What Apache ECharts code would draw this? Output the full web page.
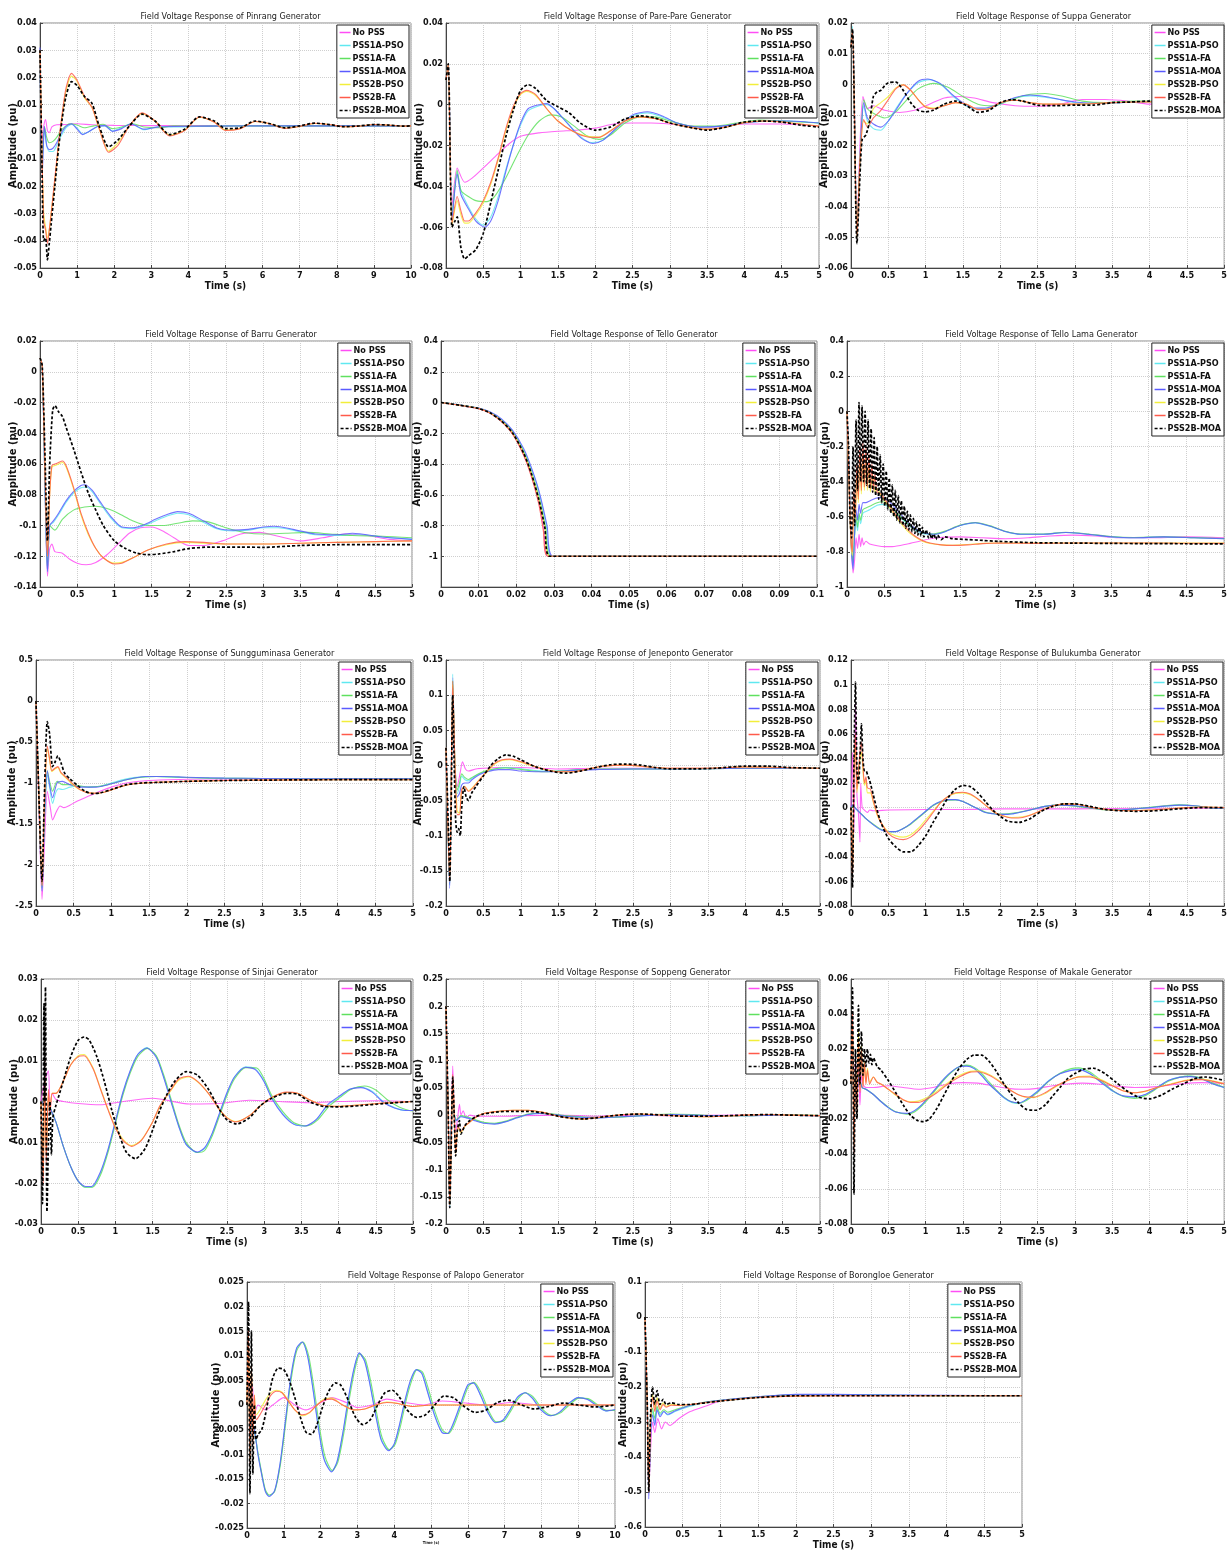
<!DOCTYPE html>
<html>
<head>
<meta charset="utf-8">
<script src="https://cdn.jsdelivr.net/npm/echarts@6/dist/echarts.min.js"></script>
<style>
html, body { margin: 0; padding: 0; background: #fff; }
#main { width: 1230px; height: 1551px; }
</style>
</head>
<body>
<div id="main"></div>
<script>
// legend names, same order for every panel
var seriesNames = ['No PSS', 'PSS1A-PSO', 'PSS1A-FA', 'PSS1A-MOA', 'PSS2B-PSO', 'PSS2B-FA', 'PSS2B-MOA'];

var panelTitles = [
	'Field Voltage Response of Pinrang Generator',
	'Field Voltage Response of Pare-Pare Generator',
	'Field Voltage Response of Suppa Generator',
	'Field Voltage Response of Barru Generator',
	'Field Voltage Response of Tello Generator',
	'Field Voltage Response of Tello Lama Generator',
	'Field Voltage Response of Sungguminasa Generator',
	'Field Voltage Response of Jeneponto Generator',
	'Field Voltage Response of Bulukumba Generator',
	'Field Voltage Response of Sinjai Generator',
	'Field Voltage Response of Soppeng Generator',
	'Field Voltage Response of Makale Generator',
	'Field Voltage Response of Palopo Generator',
	'Field Voltage Response of Borongloe Generator'
];

// axis ticks: [min, max, interval]
var timeTicks = [[0,10,1],[0,5,0.5],[0,5,0.5],[0,5,0.5],[0,0.1,0.01],[0,5,0.5],[0,5,0.5],[0,5,0.5],[0,5,0.5],[0,5,0.5],[0,5,0.5],[0,5,0.5],[0,10,1],[0,5,0.5]];
var ampTicks = [[-0.05,0.04,0.01],[-0.08,0.04,0.02],[-0.06,0.02,0.01],[-0.14,0.02,0.02],[-1.2,0.4,0.2],[-1,0.4,0.2],[-2.5,0.5,0.5],[-0.2,0.15,0.05],[-0.08,0.12,0.02],[-0.03,0.03,0.01],[-0.2,0.25,0.05],[-0.08,0.06,0.02],[-0.025,0.025,0.005],[-0.6,0.1,0.1]];

// curves: [time (s), amplitude (pu)], one list per legend entry
var pinrang = [
	[[0,0.03],[0.05,-0.004],[0.1,0.002],[0.15,0.0045],[0.2,0.0005],[0.25,-0.0003],[0.32,0.0018],[0.45,0.0026],[0.7,0.0027],[1,0.003],[1.4,0.0026],[2,0.0024],[3,0.0023],[5,0.0023],[7,0.0022],[10,0.0022]],
	[[0,0.03],[0.06,-0.012],[0.12,0.001],[0.18,-0.005],[0.25,-0.0072],[0.35,-0.0072],[0.45,-0.005],[0.55,-0.002],[0.7,0.0015],[0.85,0.0027],[1,0.0015],[1.15,-0.0008],[1.3,0],[1.55,0.002],[1.75,0.0022],[1.95,0.0003],[2.2,0.0015],[2.45,0.003],[2.8,0.0008],[3.2,0.002],[3.6,0.0018],[4.2,0.002],[5,0.0022],[7,0.0022],[10,0.0022]],
	[[0,0.03],[0.06,-0.01],[0.12,0.002],[0.18,-0.002],[0.25,-0.004],[0.35,-0.0035],[0.45,-0.002],[0.6,0.001],[0.8,0.003],[1,0.0025],[1.2,0.0015],[1.45,0.0022],[1.7,0.0028],[1.95,0.0012],[2.2,0.0018],[2.5,0.003],[2.8,0.0018],[3.2,0.0015],[3.6,0.0022],[4.5,0.0021],[6,0.0022],[10,0.0022]],
	[[0,0.031],[0.06,-0.016],[0.12,0.002],[0.18,-0.005],[0.25,-0.0065],[0.35,-0.006],[0.45,-0.004],[0.55,-0.001],[0.7,0.002],[0.85,0.003],[1,0.001],[1.15,-0.001],[1.3,0],[1.55,0.002],[1.75,0.0023],[1.95,0.0002],[2.2,0.0012],[2.45,0.003],[2.8,0.001],[3.2,0.0018],[3.6,0.002],[4.5,0.0021],[6,0.0022],[10,0.0022]],
	[[0,0.03],[0.05,-0.006],[0.1,-0.03],[0.15,-0.035],[0.2,-0.039],[0.25,-0.036],[0.3,-0.03],[0.4,-0.018],[0.5,-0.005],[0.6,0.006],[0.7,0.015],[0.85,0.0205],[1,0.0185],[1.2,0.0125],[1.4,0.009],[1.6,0.001],[1.85,-0.007],[2.1,-0.004],[2.4,0.002],[2.75,0.0068],[3.1,0.004],[3.5,-0.0012],[3.9,0.0006],[4.3,0.0054],[4.7,0.0036],[5,0.0007],[5.4,0.0013],[5.8,0.0038],[6.2,0.003],[6.6,0.0014],[7,0.002],[7.4,0.0031],[7.8,0.0027],[8.2,0.0019],[8.6,0.0021],[9,0.0027],[9.4,0.0025],[9.8,0.0021],[10,0.0022]],
	[[0,0.03],[0.05,-0.005],[0.1,-0.033],[0.15,-0.036],[0.2,-0.041],[0.25,-0.036],[0.3,-0.03],[0.4,-0.017],[0.5,-0.004],[0.6,0.007],[0.7,0.016],[0.85,0.0215],[1,0.019],[1.2,0.013],[1.4,0.009],[1.6,0.001],[1.85,-0.0075],[2.1,-0.005],[2.4,0.002],[2.75,0.007],[3.1,0.004],[3.5,-0.0015],[3.9,0.0005],[4.3,0.0055],[4.7,0.0035],[5,0.0005],[5.4,0.0012],[5.8,0.0038],[6.2,0.003],[6.6,0.0013],[7,0.002],[7.4,0.0032],[7.8,0.0027],[8.2,0.0019],[8.6,0.0021],[9,0.0027],[9.4,0.0025],[9.8,0.0021],[10,0.0022]],
	[[0,0.03],[0.05,-0.01],[0.1,-0.04],[0.15,-0.039],[0.2,-0.047],[0.25,-0.041],[0.3,-0.034],[0.4,-0.02],[0.5,-0.006],[0.6,0.005],[0.7,0.013],[0.85,0.0185],[1,0.017],[1.2,0.013],[1.4,0.0105],[1.6,0.002],[1.85,-0.0055],[2.1,-0.003],[2.4,0.002],[2.75,0.0065],[3.1,0.004],[3.5,-0.001],[3.9,0.001],[4.3,0.0055],[4.7,0.004],[5,0.0012],[5.4,0.0015],[5.8,0.004],[6.2,0.003],[6.6,0.0015],[7,0.0022],[7.4,0.0032],[7.8,0.0027],[8.2,0.0019],[8.6,0.0022],[9,0.0027],[9.4,0.0025],[9.8,0.0021],[10,0.0022]]
];

var parePare = [
	[[0,0.012],[0.03,0.02],[0.08,-0.05],[0.15,-0.031],[0.25,-0.038],[0.35,-0.036],[0.5,-0.031],[0.7,-0.024],[0.85,-0.019],[1,-0.0155],[1.25,-0.0138],[1.5,-0.013],[1.75,-0.0125],[2,-0.0115],[2.25,-0.0095],[2.5,-0.009],[2.75,-0.009],[3,-0.0095],[3.5,-0.011],[4,-0.0095],[4.5,-0.0095],[5,-0.0105]],
	[[0,0.012],[0.03,0.02],[0.08,-0.055],[0.15,-0.033],[0.2,-0.042],[0.3,-0.05],[0.4,-0.056],[0.5,-0.059],[0.6,-0.055],[0.7,-0.045],[0.8,-0.032],[0.9,-0.02],[1,-0.01],[1.1,-0.003],[1.25,-0.0005],[1.35,0],[1.45,-0.002],[1.6,-0.008],[1.8,-0.0155],[1.95,-0.0185],[2.1,-0.0175],[2.3,-0.011],[2.5,-0.0055],[2.7,-0.004],[2.9,-0.006],[3.1,-0.009],[3.4,-0.011],[3.7,-0.0105],[4,-0.009],[4.3,-0.008],[4.6,-0.008],[5,-0.009]],
	[[0,0.012],[0.03,0.02],[0.08,-0.055],[0.15,-0.032],[0.2,-0.042],[0.3,-0.045],[0.4,-0.047],[0.55,-0.0475],[0.65,-0.045],[0.8,-0.036],[0.95,-0.025],[1.1,-0.015],[1.25,-0.008],[1.4,-0.005],[1.55,-0.006],[1.7,-0.01],[1.9,-0.0155],[2.05,-0.017],[2.2,-0.015],[2.4,-0.009],[2.6,-0.006],[2.8,-0.006],[3,-0.008],[3.3,-0.0105],[3.6,-0.0105],[3.9,-0.009],[4.2,-0.0075],[4.5,-0.008],[5,-0.009]],
	[[0,0.012],[0.03,0.02],[0.08,-0.056],[0.15,-0.034],[0.2,-0.044],[0.3,-0.051],[0.4,-0.057],[0.52,-0.06],[0.6,-0.057],[0.7,-0.047],[0.8,-0.033],[0.9,-0.02],[1,-0.009],[1.1,-0.002],[1.25,0],[1.35,0.0005],[1.45,-0.002],[1.6,-0.008],[1.8,-0.016],[1.97,-0.019],[2.1,-0.0175],[2.3,-0.011],[2.5,-0.005],[2.7,-0.0035],[2.9,-0.0055],[3.1,-0.009],[3.4,-0.011],[3.7,-0.0105],[4,-0.009],[4.3,-0.008],[4.6,-0.008],[5,-0.009]],
	[[0,0.012],[0.03,0.02],[0.08,-0.059],[0.15,-0.047],[0.2,-0.054],[0.25,-0.058],[0.3,-0.058],[0.4,-0.054],[0.5,-0.048],[0.6,-0.039],[0.7,-0.027],[0.8,-0.013],[0.9,-0.002],[1,0.005],[1.08,0.0065],[1.2,0.0045],[1.35,-0.002],[1.5,-0.008],[1.7,-0.013],[1.9,-0.0155],[2.05,-0.0158],[2.2,-0.0128],[2.4,-0.008],[2.6,-0.006],[2.8,-0.0068],[3,-0.009],[3.25,-0.011],[3.5,-0.012],[3.75,-0.011],[4,-0.0088],[4.25,-0.008],[4.5,-0.0085],[4.75,-0.0095],[5,-0.0105]],
	[[0,0.012],[0.03,0.02],[0.08,-0.058],[0.15,-0.045],[0.2,-0.052],[0.25,-0.057],[0.3,-0.057],[0.4,-0.053],[0.5,-0.047],[0.6,-0.038],[0.7,-0.026],[0.8,-0.012],[0.9,-0.001],[1,0.0055],[1.08,0.007],[1.2,0.005],[1.35,-0.002],[1.5,-0.008],[1.7,-0.013],[1.9,-0.0158],[2.05,-0.016],[2.2,-0.013],[2.4,-0.008],[2.6,-0.006],[2.8,-0.0068],[3,-0.009],[3.25,-0.011],[3.5,-0.012],[3.75,-0.011],[4,-0.0088],[4.25,-0.008],[4.5,-0.0085],[4.75,-0.0095],[5,-0.0105]],
	[[0,0.012],[0.03,0.02],[0.08,-0.06],[0.12,-0.057],[0.15,-0.055],[0.2,-0.07],[0.25,-0.0755],[0.3,-0.074],[0.4,-0.071],[0.5,-0.063],[0.6,-0.048],[0.7,-0.032],[0.8,-0.016],[0.9,-0.003],[1,0.007],[1.1,0.0098],[1.2,0.008],[1.35,0.002],[1.5,-0.001],[1.65,-0.004],[1.8,-0.009],[2,-0.0125],[2.2,-0.011],[2.4,-0.007],[2.6,-0.0055],[2.8,-0.0065],[3,-0.009],[3.25,-0.011],[3.5,-0.0125],[3.75,-0.011],[4,-0.0085],[4.25,-0.008],[4.5,-0.0085],[4.75,-0.01],[5,-0.011]]
];

var suppa = [
	[[0,0.012],[0.02,0.018],[0.08,-0.048],[0.12,-0.02],[0.16,-0.004],[0.22,-0.008],[0.3,-0.007],[0.45,-0.0085],[0.65,-0.0092],[0.85,-0.0085],[1.05,-0.0065],[1.25,-0.0045],[1.45,-0.004],[1.65,-0.0045],[1.9,-0.006],[2.2,-0.007],[2.5,-0.0072],[2.8,-0.0065],[3.1,-0.005],[3.4,-0.005],[3.7,-0.0055],[4,-0.0065],[4.5,-0.0062],[5,-0.006]],
	[[0,0.012],[0.02,0.019],[0.08,-0.05],[0.12,-0.025],[0.17,-0.007],[0.22,-0.012],[0.3,-0.0145],[0.4,-0.015],[0.5,-0.012],[0.6,-0.008],[0.75,-0.003],[0.9,0.0005],[1.05,0.0015],[1.2,0],[1.35,-0.0035],[1.5,-0.0065],[1.65,-0.008],[1.8,-0.008],[2,-0.0065],[2.2,-0.0045],[2.4,-0.0038],[2.6,-0.0042],[2.8,-0.005],[3,-0.006],[3.3,-0.0063],[3.6,-0.006],[4,-0.0057],[4.5,-0.0057],[5,-0.006]],
	[[0,0.012],[0.02,0.018],[0.08,-0.05],[0.12,-0.025],[0.17,-0.005],[0.22,-0.008],[0.3,-0.0095],[0.45,-0.011],[0.6,-0.009],[0.75,-0.005],[0.9,-0.0015],[1.1,0.0003],[1.3,-0.001],[1.5,-0.004],[1.7,-0.0065],[1.9,-0.007],[2.1,-0.0055],[2.35,-0.0035],[2.6,-0.003],[2.85,-0.004],[3.1,-0.0055],[3.4,-0.006],[3.8,-0.0055],[4.2,-0.0055],[4.6,-0.0056],[5,-0.0058]],
	[[0,0.012],[0.02,0.018],[0.08,-0.05],[0.12,-0.025],[0.17,-0.006],[0.22,-0.011],[0.3,-0.013],[0.4,-0.014],[0.5,-0.012],[0.6,-0.0085],[0.75,-0.003],[0.9,0.001],[1.03,0.0017],[1.2,0.0002],[1.35,-0.0032],[1.5,-0.006],[1.65,-0.0078],[1.8,-0.0078],[2,-0.0062],[2.2,-0.0043],[2.4,-0.0035],[2.6,-0.004],[2.8,-0.005],[3,-0.0058],[3.3,-0.0062],[3.6,-0.006],[4,-0.0057],[4.5,-0.0057],[5,-0.006]],
	[[0,0.012],[0.02,0.018],[0.08,-0.05],[0.12,-0.025],[0.17,-0.012],[0.22,-0.013],[0.3,-0.008],[0.4,-0.006],[0.5,-0.004],[0.6,-0.0012],[0.7,-0.0002],[0.8,-0.002],[0.9,-0.005],[1,-0.0072],[1.1,-0.0078],[1.25,-0.007],[1.4,-0.006],[1.55,-0.0065],[1.7,-0.0082],[1.85,-0.008],[2,-0.006],[2.2,-0.0052],[2.4,-0.006],[2.6,-0.0065],[2.8,-0.0065],[3,-0.0065],[3.5,-0.006],[4,-0.0057],[5,-0.006]],
	[[0,0.012],[0.02,0.018],[0.08,-0.05],[0.12,-0.025],[0.17,-0.0115],[0.22,-0.014],[0.3,-0.011],[0.4,-0.0085],[0.5,-0.005],[0.6,-0.0015],[0.7,-0.0002],[0.8,-0.002],[0.9,-0.005],[1,-0.0075],[1.1,-0.008],[1.25,-0.007],[1.4,-0.006],[1.55,-0.0065],[1.7,-0.0083],[1.85,-0.008],[2,-0.006],[2.2,-0.0052],[2.4,-0.006],[2.6,-0.0065],[2.8,-0.0065],[3,-0.0065],[3.5,-0.006],[4,-0.0057],[5,-0.006]],
	[[0,0.012],[0.02,0.018],[0.08,-0.052],[0.12,-0.03],[0.15,-0.018],[0.2,-0.0165],[0.25,-0.012],[0.3,-0.004],[0.35,-0.0025],[0.4,-0.002],[0.45,-0.0005],[0.5,0.0005],[0.6,0.0007],[0.7,-0.002],[0.8,-0.006],[0.9,-0.0085],[1,-0.009],[1.1,-0.0085],[1.25,-0.0065],[1.4,-0.0055],[1.55,-0.007],[1.7,-0.0092],[1.85,-0.0085],[2,-0.006],[2.15,-0.005],[2.3,-0.0055],[2.5,-0.0068],[2.75,-0.007],[3,-0.0068],[3.25,-0.0068],[3.5,-0.006],[3.75,-0.0058],[4,-0.0055],[4.5,-0.0057],[5,-0.0058]]
];

var barru = [
	[[0,0.009],[0.03,0.004],[0.07,-0.08],[0.1,-0.133],[0.13,-0.115],[0.16,-0.112],[0.2,-0.117],[0.3,-0.118],[0.4,-0.122],[0.5,-0.1245],[0.62,-0.1255],[0.75,-0.124],[0.9,-0.119],[1.05,-0.112],[1.2,-0.105],[1.35,-0.1015],[1.5,-0.101],[1.65,-0.1035],[1.8,-0.108],[2,-0.113],[2.2,-0.113],[2.45,-0.11],[2.7,-0.1055],[2.95,-0.1045],[3.2,-0.107],[3.5,-0.11],[3.8,-0.108],[4.1,-0.1055],[4.4,-0.1065],[4.7,-0.109],[5,-0.11]],
	[[0,0.009],[0.03,0.004],[0.07,-0.08],[0.1,-0.13],[0.13,-0.1],[0.18,-0.098],[0.25,-0.093],[0.35,-0.085],[0.45,-0.079],[0.55,-0.0755],[0.62,-0.075],[0.7,-0.078],[0.8,-0.085],[0.95,-0.095],[1.1,-0.1015],[1.25,-0.102],[1.4,-0.1],[1.55,-0.097],[1.7,-0.094],[1.85,-0.092],[2,-0.093],[2.2,-0.098],[2.4,-0.1025],[2.6,-0.1035],[2.8,-0.103],[3,-0.1015],[3.2,-0.1015],[3.4,-0.103],[3.7,-0.106],[4,-0.1065],[4.3,-0.106],[4.6,-0.1075],[5,-0.109]],
	[[0,0.009],[0.03,0.004],[0.07,-0.08],[0.1,-0.128],[0.13,-0.1],[0.17,-0.102],[0.2,-0.103],[0.3,-0.096],[0.45,-0.09],[0.6,-0.088],[0.75,-0.0875],[0.9,-0.089],[1.05,-0.092],[1.25,-0.097],[1.45,-0.1],[1.65,-0.1],[1.85,-0.0985],[2.05,-0.097],[2.25,-0.0975],[2.5,-0.1015],[2.75,-0.1045],[3,-0.1055],[3.3,-0.105],[3.6,-0.1045],[3.9,-0.1055],[4.2,-0.1065],[4.6,-0.107],[5,-0.108]],
	[[0,0.009],[0.03,0.004],[0.07,-0.08],[0.1,-0.13],[0.13,-0.1],[0.18,-0.097],[0.25,-0.092],[0.35,-0.084],[0.45,-0.078],[0.55,-0.074],[0.6,-0.0735],[0.7,-0.077],[0.8,-0.084],[0.95,-0.094],[1.1,-0.101],[1.25,-0.1015],[1.4,-0.0995],[1.55,-0.096],[1.7,-0.093],[1.85,-0.091],[2,-0.092],[2.2,-0.097],[2.4,-0.102],[2.6,-0.103],[2.8,-0.1025],[3,-0.101],[3.15,-0.1005],[3.4,-0.1025],[3.7,-0.1055],[4,-0.106],[4.2,-0.105],[4.6,-0.1075],[5,-0.109]],
	[[0,0.009],[0.03,0.004],[0.07,-0.07],[0.1,-0.12],[0.13,-0.08],[0.16,-0.062],[0.2,-0.061],[0.25,-0.06],[0.3,-0.059],[0.35,-0.062],[0.45,-0.076],[0.55,-0.093],[0.65,-0.106],[0.75,-0.115],[0.85,-0.121],[1,-0.1245],[1.1,-0.124],[1.25,-0.121],[1.45,-0.116],[1.7,-0.1125],[1.95,-0.111],[2.2,-0.1115],[2.5,-0.112],[3,-0.112],[3.5,-0.1115],[4,-0.111],[4.5,-0.1105],[5,-0.11]],
	[[0,0.009],[0.03,0.004],[0.07,-0.07],[0.1,-0.12],[0.13,-0.08],[0.16,-0.061],[0.2,-0.06],[0.25,-0.059],[0.3,-0.058],[0.35,-0.061],[0.45,-0.075],[0.55,-0.092],[0.65,-0.105],[0.75,-0.115],[0.85,-0.121],[1,-0.125],[1.1,-0.1245],[1.25,-0.121],[1.45,-0.116],[1.7,-0.112],[1.95,-0.1105],[2.2,-0.111],[2.5,-0.112],[3,-0.112],[3.5,-0.1115],[4,-0.111],[4.5,-0.1105],[5,-0.11]],
	[[0,0.009],[0.03,0.004],[0.07,-0.06],[0.1,-0.11],[0.13,-0.06],[0.17,-0.025],[0.2,-0.022],[0.25,-0.026],[0.3,-0.029],[0.35,-0.036],[0.45,-0.05],[0.55,-0.065],[0.65,-0.079],[0.75,-0.09],[0.85,-0.1],[1,-0.11],[1.15,-0.115],[1.3,-0.118],[1.45,-0.119],[1.6,-0.1185],[1.8,-0.117],[2,-0.115],[2.3,-0.114],[2.7,-0.114],[3,-0.1142],[3.5,-0.113],[4,-0.1125],[4.5,-0.1125],[5,-0.1125]]
];

var tello = [
	[[0,0],[0.005,-0.018],[0.01,-0.04],[0.013,-0.068],[0.016,-0.12],[0.019,-0.2],[0.022,-0.34],[0.024,-0.47],[0.026,-0.65],[0.0273,-0.82],[0.0285,-1],[0.1,-1]],
	[[0,0],[0.005,-0.016],[0.01,-0.037],[0.013,-0.062],[0.016,-0.11],[0.019,-0.185],[0.022,-0.31],[0.024,-0.43],[0.026,-0.58],[0.028,-0.8],[0.0295,-1],[0.1,-1]],
	[[0,0],[0.005,-0.017],[0.01,-0.038],[0.013,-0.065],[0.016,-0.115],[0.019,-0.19],[0.022,-0.32],[0.024,-0.45],[0.026,-0.61],[0.0278,-0.81],[0.0292,-1],[0.1,-1]],
	[[0,0],[0.005,-0.016],[0.01,-0.036],[0.013,-0.06],[0.016,-0.105],[0.019,-0.18],[0.022,-0.3],[0.024,-0.42],[0.026,-0.57],[0.0282,-0.8],[0.0298,-1],[0.1,-1]],
	[[0,0],[0.005,-0.018],[0.01,-0.039],[0.013,-0.067],[0.016,-0.118],[0.019,-0.197],[0.022,-0.33],[0.024,-0.46],[0.026,-0.63],[0.0276,-0.81],[0.0289,-1],[0.1,-1]],
	[[0,0],[0.005,-0.018],[0.01,-0.04],[0.013,-0.069],[0.016,-0.122],[0.019,-0.205],[0.022,-0.345],[0.024,-0.48],[0.026,-0.66],[0.0272,-0.83],[0.0284,-1],[0.1,-1]],
	[[0,0],[0.005,-0.018],[0.01,-0.039],[0.013,-0.067],[0.016,-0.118],[0.019,-0.197],[0.022,-0.33],[0.024,-0.46],[0.026,-0.63],[0.0276,-0.81],[0.0289,-1],[0.1,-1]]
];

var telloLama = [
	[[0,0],[0.02,-0.25],[0.05,-0.7],[0.08,-0.92],[0.1,-0.85],[0.12,-0.72],[0.14,-0.78],[0.16,-0.7],[0.18,-0.77],[0.2,-0.72],[0.22,-0.76],[0.25,-0.74],[0.3,-0.755],[0.4,-0.765],[0.5,-0.77],[0.6,-0.77],[0.8,-0.755],[1,-0.735],[1.2,-0.72],[1.5,-0.715],[1.8,-0.72],[2.1,-0.725],[2.4,-0.72],[2.7,-0.71],[3,-0.705],[3.3,-0.71],[3.6,-0.72],[4,-0.72],[4.5,-0.715],[5,-0.72]],
	[[0,0],[0.02,-0.25],[0.05,-0.7],[0.08,-0.88],[0.1,-0.72],[0.12,-0.62],[0.14,-0.68],[0.16,-0.6],[0.18,-0.64],[0.21,-0.58],[0.25,-0.57],[0.3,-0.56],[0.4,-0.535],[0.48,-0.53],[0.55,-0.545],[0.7,-0.6],[0.85,-0.66],[1,-0.695],[1.15,-0.7],[1.3,-0.685],[1.5,-0.65],[1.7,-0.635],[1.9,-0.655],[2.1,-0.685],[2.3,-0.7],[2.6,-0.7],[2.9,-0.69],[3.2,-0.7],[3.5,-0.715],[3.8,-0.72],[4.2,-0.715],[4.6,-0.72],[5,-0.725]],
	[[0,0],[0.02,-0.25],[0.05,-0.7],[0.08,-0.86],[0.1,-0.7],[0.12,-0.6],[0.14,-0.66],[0.16,-0.58],[0.18,-0.62],[0.21,-0.56],[0.25,-0.55],[0.3,-0.54],[0.4,-0.52],[0.47,-0.515],[0.55,-0.535],[0.7,-0.595],[0.85,-0.655],[1,-0.69],[1.15,-0.698],[1.3,-0.682],[1.5,-0.648],[1.7,-0.633],[1.9,-0.652],[2.1,-0.683],[2.3,-0.698],[2.6,-0.698],[2.9,-0.688],[3.2,-0.698],[3.5,-0.713],[3.8,-0.718],[4.2,-0.714],[4.6,-0.719],[5,-0.724]],
	[[0,0],[0.02,-0.25],[0.05,-0.7],[0.08,-0.9],[0.1,-0.7],[0.12,-0.56],[0.14,-0.62],[0.16,-0.53],[0.18,-0.58],[0.21,-0.52],[0.25,-0.52],[0.3,-0.51],[0.38,-0.495],[0.45,-0.49],[0.55,-0.51],[0.7,-0.58],[0.85,-0.65],[1,-0.69],[1.15,-0.7],[1.3,-0.685],[1.5,-0.65],[1.7,-0.634],[1.9,-0.654],[2.1,-0.684],[2.3,-0.7],[2.6,-0.7],[2.9,-0.69],[3.2,-0.7],[3.5,-0.714],[3.8,-0.72],[4.2,-0.715],[4.6,-0.72],[5,-0.725]],
	[[0,0],[0.02,-0.3],[0.05,-0.72],[0.07,-0.82],[0.09,-0.5],[0.11,-0.62],[0.13,-0.35],[0.15,-0.52],[0.17,-0.26],[0.19,-0.47],[0.21,-0.24],[0.23,-0.45],[0.25,-0.26],[0.27,-0.45],[0.29,-0.3],[0.31,-0.46],[0.34,-0.36],[0.37,-0.46],[0.4,-0.44],[0.45,-0.48],[0.5,-0.51],[0.6,-0.57],[0.7,-0.63],[0.8,-0.68],[0.9,-0.715],[1,-0.74],[1.1,-0.752],[1.25,-0.76],[1.4,-0.762],[1.6,-0.758],[1.8,-0.752],[2,-0.75],[2.5,-0.75],[3,-0.75],[4,-0.75],[5,-0.75]],
	[[0,0],[0.02,-0.3],[0.05,-0.72],[0.07,-0.8],[0.09,-0.45],[0.11,-0.6],[0.13,-0.3],[0.15,-0.5],[0.17,-0.2],[0.19,-0.45],[0.21,-0.18],[0.23,-0.43],[0.25,-0.2],[0.27,-0.43],[0.29,-0.24],[0.31,-0.44],[0.33,-0.3],[0.35,-0.45],[0.37,-0.36],[0.4,-0.46],[0.45,-0.47],[0.5,-0.5],[0.6,-0.56],[0.7,-0.62],[0.8,-0.67],[0.9,-0.71],[1,-0.735],[1.1,-0.75],[1.25,-0.76],[1.4,-0.763],[1.6,-0.76],[1.8,-0.753],[2,-0.75],[2.5,-0.752],[3,-0.75],[4,-0.75],[5,-0.752]],
	[[0,0],[0.02,-0.2],[0.04,-0.6],[0.06,-0.72],[0.08,-0.2],[0.1,-0.65],[0.12,-0.05],[0.14,-0.45],[0.16,0.05],[0.18,-0.4],[0.2,0.03],[0.22,-0.4],[0.24,0],[0.26,-0.42],[0.28,-0.05],[0.3,-0.44],[0.32,-0.1],[0.34,-0.46],[0.36,-0.15],[0.38,-0.48],[0.4,-0.2],[0.42,-0.5],[0.44,-0.25],[0.46,-0.52],[0.48,-0.3],[0.5,-0.54],[0.52,-0.34],[0.54,-0.56],[0.56,-0.38],[0.58,-0.58],[0.6,-0.42],[0.62,-0.6],[0.64,-0.45],[0.66,-0.62],[0.68,-0.48],[0.7,-0.635],[0.72,-0.51],[0.74,-0.65],[0.76,-0.54],[0.78,-0.665],[0.8,-0.57],[0.82,-0.675],[0.84,-0.59],[0.86,-0.685],[0.88,-0.61],[0.9,-0.695],[0.92,-0.63],[0.94,-0.705],[0.96,-0.645],[0.98,-0.71],[1,-0.66],[1.02,-0.715],[1.05,-0.675],[1.08,-0.72],[1.1,-0.69],[1.12,-0.725],[1.15,-0.7],[1.18,-0.73],[1.2,-0.705],[1.25,-0.73],[1.3,-0.715],[1.4,-0.725],[1.6,-0.73],[1.8,-0.735],[2,-0.74],[2.5,-0.748],[3,-0.75],[3.5,-0.752],[4,-0.753],[4.5,-0.754],[5,-0.755]]
];

var sungguminasa = [
	[[0,0],[0.04,-1.3],[0.08,-2.42],[0.11,-1.8],[0.15,-1.1],[0.19,-1.3],[0.22,-1.45],[0.27,-1.35],[0.32,-1.28],[0.37,-1.3],[0.45,-1.27],[0.55,-1.22],[0.7,-1.16],[0.85,-1.1],[1,-1.05],[1.2,-1],[1.5,-0.97],[2,-0.955],[2.5,-0.95],[3,-0.95],[4,-0.95],[5,-0.95]],
	[[0,0],[0.04,-1.2],[0.08,-2.3],[0.11,-1.5],[0.15,-0.9],[0.18,-1.05],[0.22,-1.25],[0.26,-1.12],[0.3,-1.07],[0.35,-1.08],[0.45,-1.05],[0.55,-1.04],[0.7,-1.05],[0.85,-1.04],[1,-1],[1.2,-0.95],[1.4,-0.925],[1.6,-0.92],[1.9,-0.93],[2.3,-0.94],[3,-0.945],[4,-0.95],[5,-0.95]],
	[[0,0],[0.04,-1.2],[0.08,-2.28],[0.11,-1.45],[0.15,-0.85],[0.18,-0.98],[0.22,-1.1],[0.28,-0.98],[0.35,-1.02],[0.45,-1.02],[0.55,-1.03],[0.7,-1.05],[0.85,-1.04],[1,-1.01],[1.2,-0.96],[1.4,-0.93],[1.6,-0.92],[1.9,-0.93],[2.3,-0.94],[3,-0.945],[4,-0.95],[5,-0.95]],
	[[0,0],[0.04,-1.2],[0.08,-2.32],[0.11,-1.45],[0.15,-0.85],[0.18,-1.02],[0.22,-1.18],[0.28,-1],[0.35,-0.98],[0.45,-1.02],[0.6,-1.05],[0.8,-1.05],[1,-1.01],[1.2,-0.96],[1.45,-0.92],[1.7,-0.92],[2,-0.93],[2.5,-0.94],[3,-0.945],[4,-0.95],[5,-0.95]],
	[[0,0],[0.04,-1.2],[0.08,-2.25],[0.11,-1.3],[0.15,-0.58],[0.18,-0.72],[0.21,-0.86],[0.25,-0.83],[0.29,-0.81],[0.33,-0.88],[0.4,-0.94],[0.5,-1.03],[0.6,-1.09],[0.7,-1.12],[0.8,-1.125],[0.95,-1.1],[1.1,-1.05],[1.3,-1.01],[1.6,-0.99],[2,-0.98],[2.5,-0.97],[3,-0.965],[4,-0.96],[5,-0.96]],
	[[0,0],[0.04,-1.2],[0.08,-2.25],[0.11,-1.3],[0.15,-0.55],[0.18,-0.7],[0.21,-0.85],[0.25,-0.82],[0.29,-0.8],[0.33,-0.87],[0.4,-0.93],[0.5,-1.02],[0.6,-1.09],[0.7,-1.12],[0.8,-1.125],[0.95,-1.1],[1.1,-1.05],[1.3,-1.01],[1.6,-0.99],[2,-0.98],[2.5,-0.97],[3,-0.965],[4,-0.96],[5,-0.96]],
	[[0,0],[0.04,-1.2],[0.08,-2.2],[0.11,-1.2],[0.15,-0.25],[0.18,-0.4],[0.22,-0.8],[0.25,-0.75],[0.29,-0.67],[0.33,-0.75],[0.38,-0.88],[0.45,-0.95],[0.55,-1.03],[0.65,-1.1],[0.75,-1.13],[0.85,-1.12],[1,-1.08],[1.2,-1.02],[1.4,-1],[1.7,-0.99],[2,-0.98],[2.5,-0.97],[3,-0.965],[4,-0.96],[5,-0.96]]
];

var jeneponto = [
	[[0,0.025],[0.05,-0.16],[0.09,0.125],[0.12,0],[0.15,-0.03],[0.19,-0.01],[0.22,0.005],[0.26,-0.005],[0.3,-0.008],[0.4,-0.005],[0.5,-0.004],[0.7,-0.003],[1,-0.003],[1.5,-0.005],[2,-0.004],[3,-0.004],[5,-0.004]],
	[[0,0.025],[0.05,-0.17],[0.09,0.13],[0.12,0],[0.15,-0.04],[0.18,-0.03],[0.21,-0.015],[0.25,-0.02],[0.3,-0.022],[0.35,-0.018],[0.45,-0.012],[0.55,-0.008],[0.7,-0.004],[0.8,-0.003],[0.95,-0.004],[1.1,-0.006],[1.3,-0.008],[1.5,-0.008],[1.8,-0.006],[2.1,-0.005],[2.5,-0.005],[3,-0.005],[4,-0.004],[5,-0.004]],
	[[0,0.025],[0.05,-0.17],[0.09,0.12],[0.12,0],[0.15,-0.035],[0.18,-0.025],[0.21,-0.012],[0.25,-0.017],[0.3,-0.02],[0.35,-0.017],[0.45,-0.011],[0.55,-0.007],[0.7,-0.004],[0.8,-0.0035],[0.95,-0.005],[1.1,-0.007],[1.3,-0.009],[1.5,-0.008],[1.8,-0.006],[2.1,-0.005],[2.5,-0.005],[3,-0.005],[4,-0.004],[5,-0.004]],
	[[0,0.025],[0.05,-0.175],[0.09,0.11],[0.12,-0.01],[0.15,-0.045],[0.18,-0.04],[0.21,-0.028],[0.25,-0.025],[0.3,-0.025],[0.35,-0.02],[0.45,-0.013],[0.55,-0.009],[0.7,-0.006],[0.85,-0.006],[1,-0.008],[1.2,-0.009],[1.4,-0.009],[1.7,-0.007],[2,-0.006],[2.5,-0.005],[3,-0.005],[4,-0.004],[5,-0.004]],
	[[0,0.025],[0.05,-0.165],[0.09,0.115],[0.12,0],[0.15,-0.065],[0.18,-0.068],[0.21,-0.035],[0.25,-0.03],[0.3,-0.036],[0.35,-0.032],[0.45,-0.02],[0.55,-0.009],[0.65,0.002],[0.75,0.007],[0.85,0.008],[0.95,0.006],[1.1,0.001],[1.3,-0.005],[1.5,-0.009],[1.7,-0.009],[1.9,-0.005],[2.1,-0.001],[2.4,0.0005],[2.7,-0.002],[3,-0.004],[3.5,-0.004],[4,-0.002],[4.5,-0.003],[5,-0.004]],
	[[0,0.025],[0.05,-0.165],[0.09,0.12],[0.12,0],[0.15,-0.07],[0.18,-0.07],[0.21,-0.035],[0.25,-0.03],[0.3,-0.037],[0.35,-0.033],[0.45,-0.02],[0.55,-0.008],[0.65,0.003],[0.75,0.008],[0.85,0.009],[0.95,0.007],[1.1,0.002],[1.3,-0.005],[1.5,-0.009],[1.7,-0.009],[1.9,-0.005],[2.1,-0.001],[2.4,0.0005],[2.7,-0.002],[3,-0.004],[3.5,-0.004],[4,-0.002],[4.5,-0.003],[5,-0.004]],
	[[0,0.025],[0.04,-0.12],[0.05,-0.165],[0.07,-0.05],[0.09,0.1],[0.11,0],[0.13,-0.08],[0.15,-0.095],[0.17,-0.09],[0.19,-0.1],[0.21,-0.06],[0.24,-0.03],[0.27,-0.045],[0.3,-0.05],[0.34,-0.04],[0.4,-0.03],[0.5,-0.015],[0.6,0],[0.7,0.01],[0.8,0.015],[0.9,0.013],[1,0.008],[1.2,-0.002],[1.4,-0.008],[1.6,-0.011],[1.8,-0.008],[2,-0.003],[2.2,0.001],[2.4,0.002],[2.6,0.0005],[2.8,-0.003],[3,-0.005],[3.3,-0.005],[3.6,-0.004],[4,-0.001],[4.3,-0.001],[4.6,-0.003],[5,-0.004]]
];

var bulukumba = [
	[[0,0],[0.02,0.045],[0.04,-0.02],[0.06,0.085],[0.08,0.01],[0.1,-0.005],[0.12,-0.028],[0.13,0.02],[0.15,0],[0.18,-0.002],[0.22,-0.004],[0.25,-0.002],[0.3,-0.0025],[0.5,-0.002],[1,-0.0015],[1.5,-0.0015],[2,-0.001],[3,-0.001],[4,-0.0005],[5,-0.0005]],
	[[0,0],[0.02,0.001],[0.05,0],[0.1,-0.003],[0.2,-0.009],[0.3,-0.014],[0.4,-0.018],[0.5,-0.0195],[0.6,-0.0195],[0.7,-0.017],[0.8,-0.013],[0.9,-0.008],[1,-0.003],[1.1,0.002],[1.2,0.005],[1.3,0.0065],[1.4,0.0065],[1.5,0.005],[1.6,0.002],[1.7,-0.001],[1.8,-0.004],[1.9,-0.005],[2,-0.0055],[2.1,-0.0055],[2.25,-0.004],[2.4,-0.002],[2.6,0.001],[2.8,0.002],[3,0.0015],[3.2,0],[3.4,-0.0015],[3.6,-0.002],[3.8,-0.001],[4,0],[4.2,0.001],[4.4,0.002],[4.6,0.0015],[4.8,0],[5,-0.0005]],
	[[0,0],[0.02,0.001],[0.05,0],[0.1,-0.003],[0.2,-0.009],[0.3,-0.0135],[0.4,-0.0175],[0.5,-0.0195],[0.6,-0.0195],[0.7,-0.017],[0.8,-0.0135],[0.9,-0.0085],[1,-0.0035],[1.1,0.0015],[1.2,0.0045],[1.3,0.006],[1.4,0.0062],[1.5,0.005],[1.6,0.0022],[1.7,-0.001],[1.8,-0.0035],[1.9,-0.0048],[2,-0.0052],[2.1,-0.005],[2.25,-0.0038],[2.4,-0.0018],[2.6,0.001],[2.8,0.002],[3,0.0012],[3.2,-0.0005],[3.4,-0.0018],[3.6,-0.002],[3.8,-0.001],[4,0.0003],[4.2,0.0015],[4.4,0.0022],[4.6,0.0015],[4.8,0],[5,-0.0005]],
	[[0,0],[0.02,0.002],[0.05,0],[0.1,-0.003],[0.2,-0.009],[0.3,-0.014],[0.4,-0.018],[0.5,-0.0195],[0.6,-0.0195],[0.7,-0.017],[0.8,-0.013],[0.9,-0.008],[1,-0.003],[1.1,0.002],[1.2,0.005],[1.3,0.0065],[1.4,0.0065],[1.5,0.005],[1.6,0.002],[1.7,-0.001],[1.8,-0.004],[1.9,-0.005],[2,-0.0055],[2.1,-0.0055],[2.25,-0.004],[2.4,-0.002],[2.6,0.001],[2.8,0.002],[3,0.0015],[3.2,0],[3.4,-0.0015],[3.6,-0.002],[3.8,-0.001],[4,0],[4.2,0.0012],[4.4,0.002],[4.6,0.0015],[4.8,0],[5,-0.0005]],
	[[0,0],[0.02,-0.055],[0.04,0.025],[0.06,0.05],[0.08,0.012],[0.1,0.025],[0.12,0.04],[0.14,0.045],[0.16,0.03],[0.18,0.018],[0.2,0.022],[0.22,0.012],[0.26,0.012],[0.3,0.004],[0.35,-0.006],[0.4,-0.012],[0.5,-0.02],[0.6,-0.023],[0.7,-0.024],[0.8,-0.022],[0.9,-0.017],[1,-0.01],[1.1,-0.003],[1.2,0.004],[1.3,0.009],[1.4,0.0115],[1.5,0.012],[1.6,0.0105],[1.7,0.007],[1.8,0.002],[1.9,-0.003],[2,-0.006],[2.15,-0.008],[2.3,-0.0075],[2.45,-0.005],[2.6,-0.001],[2.75,0.002],[2.9,0.003],[3.05,0.0025],[3.25,0],[3.5,-0.002],[3.75,-0.0025],[4,-0.002],[4.25,-0.001],[4.5,0],[4.75,0.0005],[5,0]],
	[[0,0],[0.02,-0.06],[0.04,0.03],[0.06,0.06],[0.08,0.015],[0.1,0.03],[0.12,0.045],[0.14,0.053],[0.16,0.035],[0.18,0.02],[0.2,0.025],[0.22,0.016],[0.26,0.015],[0.3,0.005],[0.35,-0.005],[0.4,-0.012],[0.5,-0.021],[0.6,-0.025],[0.7,-0.026],[0.8,-0.024],[0.9,-0.019],[1,-0.012],[1.1,-0.004],[1.2,0.004],[1.3,0.009],[1.4,0.012],[1.5,0.0125],[1.6,0.011],[1.7,0.007],[1.8,0.002],[1.9,-0.003],[2,-0.006],[2.15,-0.0085],[2.3,-0.008],[2.45,-0.005],[2.6,-0.001],[2.75,0.002],[2.9,0.003],[3.05,0.0025],[3.25,0],[3.5,-0.002],[3.75,-0.0025],[4,-0.002],[4.25,-0.001],[4.5,0],[4.75,0.0005],[5,0]],
	[[0,0],[0.02,-0.065],[0.04,0.04],[0.06,0.102],[0.08,0.03],[0.1,0.02],[0.12,0.04],[0.14,0.068],[0.16,0.04],[0.18,0.03],[0.2,0.03],[0.22,0.027],[0.25,0.022],[0.3,0.01],[0.35,-0.002],[0.4,-0.012],[0.5,-0.025],[0.6,-0.032],[0.7,-0.036],[0.8,-0.036],[0.9,-0.031],[1,-0.023],[1.1,-0.012],[1.2,-0.002],[1.3,0.008],[1.4,0.015],[1.5,0.018],[1.6,0.017],[1.7,0.012],[1.8,0.005],[1.9,-0.002],[2,-0.007],[2.1,-0.011],[2.25,-0.012],[2.4,-0.009],[2.55,-0.003],[2.7,0.001],[2.85,0.003],[3,0.003],[3.2,0.001],[3.4,-0.0015],[3.6,-0.0025],[3.8,-0.003],[4,-0.0028],[4.2,-0.002],[4.4,-0.001],[4.6,-0.0002],[4.8,0],[5,0]]
];

var sinjai = [
	[[0,0],[0.05,0.005],[0.1,0.0075],[0.12,-0.003],[0.15,0.002],[0.2,0.0005],[0.3,0],[0.5,-0.0005],[0.8,-0.0008],[1,-0.0003],[1.5,0.0008],[2,-0.0006],[2.4,-0.0005],[2.8,0.0003],[3.2,0],[3.6,-0.0003],[4,0],[4.5,0.0002],[5,0]],
	[[0,0],[0.1,-0.001],[0.2,-0.005],[0.3,-0.011],[0.4,-0.016],[0.5,-0.0195],[0.6,-0.021],[0.68,-0.021],[0.8,-0.0175],[0.9,-0.012],[1,-0.005],[1.1,0.002],[1.2,0.0075],[1.3,0.0115],[1.42,0.0132],[1.55,0.011],[1.65,0.006],[1.75,0],[1.85,-0.006],[1.95,-0.0105],[2.1,-0.0125],[2.2,-0.0115],[2.3,-0.008],[2.4,-0.003],[2.5,0.002],[2.6,0.006],[2.75,0.0085],[2.88,0.008],[3,0.005],[3.1,0.001],[3.25,-0.003],[3.4,-0.0055],[3.55,-0.006],[3.7,-0.0045],[3.85,-0.001],[4,0.001],[4.15,0.003],[4.3,0.0035],[4.45,0.0025],[4.6,0],[4.75,-0.0015],[4.9,-0.0022],[5,-0.0022]],
	[[0,0],[0.1,-0.001],[0.2,-0.005],[0.3,-0.011],[0.4,-0.016],[0.5,-0.0195],[0.6,-0.021],[0.69,-0.021],[0.8,-0.018],[0.9,-0.0125],[1,-0.0055],[1.1,0.0015],[1.2,0.007],[1.3,0.011],[1.43,0.013],[1.55,0.0112],[1.65,0.0065],[1.75,0.0005],[1.85,-0.0055],[1.95,-0.01],[2.1,-0.0125],[2.2,-0.012],[2.3,-0.0085],[2.4,-0.0035],[2.5,0.0015],[2.6,0.0055],[2.75,0.0083],[2.9,0.0082],[3,0.0055],[3.1,0.0015],[3.25,-0.0025],[3.4,-0.0052],[3.57,-0.006],[3.72,-0.0045],[3.87,-0.0012],[4.02,0.001],[4.17,0.003],[4.35,0.0038],[4.5,0.0028],[4.65,0.0005],[4.8,-0.0012],[4.95,-0.0022],[5,-0.0023]],
	[[0,0],[0.1,-0.001],[0.2,-0.005],[0.3,-0.011],[0.4,-0.016],[0.5,-0.0195],[0.6,-0.0208],[0.68,-0.0208],[0.8,-0.0172],[0.9,-0.0118],[1,-0.0048],[1.1,0.0022],[1.2,0.0076],[1.3,0.0115],[1.42,0.0131],[1.55,0.0108],[1.65,0.0058],[1.75,-0.0002],[1.85,-0.006],[1.95,-0.0105],[2.1,-0.0124],[2.2,-0.0113],[2.3,-0.0078],[2.4,-0.0028],[2.5,0.0022],[2.6,0.006],[2.75,0.0084],[2.88,0.0078],[3,0.0048],[3.1,0.0008],[3.25,-0.0032],[3.4,-0.0056],[3.55,-0.006],[3.7,-0.0044],[3.85,-0.0008],[4,0.0012],[4.15,0.003],[4.3,0.0034],[4.45,0.0023],[4.6,-0.0002],[4.75,-0.0016],[4.9,-0.0022],[5,-0.0022]],
	[[0,0],[0.03,-0.018],[0.05,0.008],[0.07,-0.013],[0.1,0.002],[0.12,-0.002],[0.15,0.002],[0.2,0.002],[0.3,0.005],[0.4,0.009],[0.5,0.0112],[0.58,0.0115],[0.7,0.0082],[0.8,0.0032],[0.9,-0.0018],[1,-0.0062],[1.1,-0.0092],[1.22,-0.0108],[1.35,-0.0094],[1.5,-0.005],[1.6,-0.0012],[1.75,0.0028],[1.85,0.0052],[1.98,0.006],[2.1,0.0049],[2.25,0.002],[2.4,-0.002],[2.5,-0.0039],[2.62,-0.0049],[2.8,-0.0035],[2.95,-0.001],[3.1,0.001],[3.3,0.0022],[3.45,0.002],[3.6,0.0005],[3.8,-0.001],[4,-0.0012],[4.3,-0.0008],[4.6,-0.0004],[5,0]],
	[[0,0],[0.03,-0.02],[0.05,0.01],[0.07,-0.015],[0.1,0.003],[0.12,-0.003],[0.15,0.002],[0.2,0.002],[0.3,0.005],[0.4,0.009],[0.5,0.011],[0.58,0.0112],[0.7,0.008],[0.8,0.003],[0.9,-0.002],[1,-0.0065],[1.1,-0.0095],[1.22,-0.011],[1.35,-0.0095],[1.5,-0.005],[1.6,-0.001],[1.75,0.003],[1.85,0.0055],[1.98,0.0062],[2.1,0.005],[2.25,0.002],[2.4,-0.002],[2.5,-0.004],[2.62,-0.005],[2.8,-0.0035],[2.95,-0.001],[3.1,0.001],[3.3,0.0023],[3.45,0.002],[3.6,0.0005],[3.8,-0.001],[4,-0.0012],[4.3,-0.0008],[4.6,-0.0004],[5,0]],
	[[0,0],[0.02,-0.025],[0.04,0.024],[0.05,0],[0.06,0.028],[0.07,-0.005],[0.08,-0.027],[0.1,-0.01],[0.12,0],[0.14,-0.013],[0.16,-0.004],[0.2,-0.001],[0.25,0.002],[0.3,0.005],[0.4,0.011],[0.5,0.015],[0.58,0.0158],[0.65,0.015],[0.75,0.011],[0.85,0.005],[0.95,-0.002],[1.05,-0.008],[1.15,-0.0125],[1.27,-0.014],[1.4,-0.0115],[1.5,-0.007],[1.6,-0.002],[1.7,0.002],[1.8,0.005],[1.95,0.0073],[2.1,0.0065],[2.25,0.003],[2.4,-0.002],[2.5,-0.0045],[2.63,-0.0055],[2.8,-0.004],[2.95,-0.001],[3.1,0.0008],[3.3,0.002],[3.45,0.0018],[3.6,0],[3.8,-0.0012],[4,-0.0013],[4.3,-0.001],[4.6,-0.0005],[5,0]]
];

var soppeng = [
	[[0,0.2],[0.03,0],[0.05,-0.16],[0.07,-0.02],[0.09,0.09],[0.11,0],[0.13,-0.03],[0.16,0],[0.18,0.02],[0.2,0],[0.23,0.008],[0.27,-0.005],[0.32,0],[0.4,-0.002],[0.6,-0.002],[0.8,-0.002],[1,-0.001],[1.5,0],[2,-0.002],[2.5,0],[3,-0.001],[4,0],[5,-0.001]],
	[[0,0.2],[0.03,0],[0.05,-0.17],[0.07,-0.03],[0.09,0.05],[0.11,0],[0.14,-0.01],[0.2,-0.002],[0.3,-0.005],[0.4,-0.01],[0.5,-0.014],[0.65,-0.016],[0.8,-0.012],[0.95,-0.005],[1.1,0.001],[1.25,0.003],[1.4,0.002],[1.6,-0.002],[1.8,-0.004],[2,-0.005],[2.2,-0.004],[2.5,-0.002],[2.8,0],[3,0.001],[3.3,0],[3.6,-0.001],[4,-0.001],[4.5,0],[5,-0.001]],
	[[0,0.2],[0.03,0],[0.05,-0.17],[0.07,-0.03],[0.09,0.05],[0.11,0],[0.14,-0.008],[0.2,-0.001],[0.3,-0.004],[0.4,-0.009],[0.5,-0.013],[0.65,-0.015],[0.8,-0.011],[0.95,-0.004],[1.1,0.002],[1.25,0.004],[1.4,0.003],[1.6,-0.001],[1.8,-0.003],[2,-0.004],[2.2,-0.004],[2.5,-0.002],[2.8,0.001],[3,0.002],[3.3,0.001],[3.6,-0.001],[4,-0.001],[4.5,0.001],[5,-0.001]],
	[[0,0.2],[0.03,0],[0.05,-0.17],[0.07,-0.03],[0.09,0.05],[0.11,0],[0.14,-0.01],[0.2,-0.003],[0.3,-0.006],[0.4,-0.011],[0.5,-0.015],[0.65,-0.0165],[0.8,-0.012],[0.95,-0.005],[1.1,0.001],[1.25,0.003],[1.4,0.002],[1.6,-0.002],[1.8,-0.004],[2,-0.005],[2.2,-0.004],[2.5,-0.002],[2.8,0],[3,0.001],[3.3,0],[3.6,-0.001],[4,-0.001],[4.5,0],[5,-0.001]],
	[[0,0.2],[0.03,0],[0.05,-0.165],[0.07,-0.05],[0.09,0.072],[0.11,0],[0.13,-0.07],[0.16,-0.022],[0.2,-0.032],[0.25,-0.021],[0.3,-0.015],[0.4,-0.004],[0.5,0.003],[0.7,0.007],[0.9,0.009],[1.1,0.009],[1.3,0.005],[1.5,-0.002],[1.7,-0.006],[1.85,-0.007],[2,-0.005],[2.3,0],[2.6,0.002],[2.9,0],[3.2,-0.002],[3.5,-0.003],[4,0],[4.3,0.001],[4.6,0],[5,-0.001]],
	[[0,0.2],[0.03,0],[0.05,-0.165],[0.07,-0.05],[0.09,0.075],[0.11,0],[0.13,-0.07],[0.16,-0.02],[0.2,-0.03],[0.25,-0.02],[0.3,-0.015],[0.4,-0.004],[0.5,0.003],[0.7,0.007],[0.9,0.009],[1.1,0.009],[1.3,0.005],[1.5,-0.002],[1.7,-0.006],[1.85,-0.007],[2,-0.005],[2.3,0],[2.6,0.002],[2.9,0],[3.2,-0.002],[3.5,-0.003],[4,0],[4.3,0.001],[4.6,0],[5,-0.001]],
	[[0,0.2],[0.03,0],[0.05,-0.17],[0.07,-0.05],[0.09,0.07],[0.11,0],[0.13,-0.075],[0.15,-0.03],[0.18,-0.01],[0.2,-0.035],[0.25,-0.02],[0.3,-0.012],[0.4,-0.003],[0.5,0.002],[0.7,0.006],[0.9,0.007],[1.1,0.007],[1.3,0.004],[1.5,-0.002],[1.7,-0.006],[1.85,-0.007],[2,-0.005],[2.3,0],[2.6,0.002],[2.9,0],[3.2,-0.002],[3.5,-0.002],[4,0],[4.3,0.001],[4.6,0],[5,-0.001]]
];

var makale = [
	[[0,0],[0.02,0.02],[0.04,-0.015],[0.06,0.015],[0.08,-0.01],[0.1,0.01],[0.12,-0.012],[0.14,0.005],[0.16,0],[0.2,-0.002],[0.3,-0.002],[0.5,-0.001],[0.7,-0.002],[0.9,-0.003],[1.1,-0.002],[1.3,0],[1.5,0.0008],[1.7,0.0005],[1.9,-0.001],[2.1,-0.0025],[2.3,-0.003],[2.5,-0.0025],[2.7,-0.001],[2.9,0],[3.1,0.0005],[3.3,0],[3.5,-0.001],[3.8,-0.002],[4.1,-0.0015],[4.4,0],[4.7,0.0008],[5,0.0005]],
	[[0,0],[0.02,0.02],[0.04,-0.02],[0.06,0.01],[0.08,-0.005],[0.1,0.005],[0.15,-0.002],[0.2,-0.003],[0.3,-0.006],[0.4,-0.01],[0.5,-0.0135],[0.6,-0.016],[0.75,-0.017],[0.85,-0.0155],[0.95,-0.012],[1.05,-0.007],[1.15,-0.002],[1.25,0.003],[1.35,0.007],[1.45,0.01],[1.55,0.0105],[1.65,0.009],[1.75,0.005],[1.85,0],[1.95,-0.004],[2.05,-0.008],[2.15,-0.0105],[2.25,-0.011],[2.35,-0.009],[2.5,-0.004],[2.65,0.002],[2.8,0.006],[2.95,0.008],[3.05,0.0085],[3.2,0.006],[3.35,0.001],[3.5,-0.004],[3.65,-0.007],[3.8,-0.0075],[3.95,-0.006],[4.1,-0.002],[4.25,0.002],[4.4,0.004],[4.55,0.0045],[4.7,0.003],[4.85,0],[5,-0.002]],
	[[0,0],[0.02,0.02],[0.04,-0.02],[0.06,0.01],[0.08,-0.005],[0.1,0.005],[0.15,-0.002],[0.2,-0.003],[0.3,-0.006],[0.4,-0.0098],[0.5,-0.0132],[0.6,-0.0158],[0.75,-0.0172],[0.85,-0.016],[0.95,-0.0125],[1.05,-0.0078],[1.15,-0.0025],[1.25,0.0025],[1.35,0.0068],[1.45,0.0098],[1.55,0.0108],[1.65,0.0095],[1.75,0.006],[1.85,0.0012],[1.95,-0.0035],[2.05,-0.0075],[2.15,-0.0102],[2.25,-0.011],[2.35,-0.0095],[2.5,-0.0048],[2.65,0.0015],[2.8,0.0062],[2.95,0.0088],[3.05,0.0092],[3.2,0.0068],[3.35,0.002],[3.5,-0.0035],[3.65,-0.0072],[3.8,-0.0082],[3.95,-0.0065],[4.1,-0.0025],[4.25,0.0015],[4.4,0.0038],[4.55,0.0045],[4.7,0.0032],[4.85,0.0005],[5,-0.0018]],
	[[0,0],[0.02,0.022],[0.04,-0.022],[0.06,0.01],[0.08,-0.006],[0.1,0.004],[0.15,-0.002],[0.2,-0.003],[0.3,-0.006],[0.4,-0.01],[0.5,-0.0135],[0.6,-0.016],[0.75,-0.0168],[0.85,-0.0152],[0.95,-0.0118],[1.05,-0.0068],[1.15,-0.0018],[1.25,0.0032],[1.35,0.0072],[1.45,0.0098],[1.55,0.0102],[1.65,0.0088],[1.75,0.0048],[1.85,0],[1.95,-0.004],[2.05,-0.0078],[2.15,-0.0102],[2.25,-0.0108],[2.35,-0.0088],[2.5,-0.0042],[2.65,0.0018],[2.8,0.0058],[2.95,0.0078],[3.05,0.0082],[3.2,0.0058],[3.35,0.001],[3.5,-0.0038],[3.65,-0.0068],[3.8,-0.0072],[3.95,-0.0058],[4.1,-0.002],[4.25,0.002],[4.4,0.0038],[4.55,0.0042],[4.7,0.0028],[4.85,0],[5,-0.002]],
	[[0,0],[0.02,0.035],[0.04,-0.035],[0.06,0.012],[0.08,-0.012],[0.1,0.03],[0.12,-0.004],[0.14,0.022],[0.16,-0.001],[0.18,0.013],[0.2,0.001],[0.22,0.009],[0.25,0.001],[0.3,0.004],[0.35,0.001],[0.4,0],[0.5,-0.003],[0.6,-0.0065],[0.7,-0.0092],[0.8,-0.0102],[0.9,-0.0098],[1,-0.0082],[1.15,-0.0042],[1.3,0.0008],[1.45,0.0048],[1.6,0.0072],[1.7,0.0075],[1.85,0.0055],[2,0.0015],[2.15,-0.0038],[2.3,-0.0072],[2.45,-0.0078],[2.6,-0.0055],[2.75,-0.0015],[2.9,0.002],[3.05,0.0042],[3.2,0.0045],[3.35,0.0025],[3.5,-0.0008],[3.65,-0.0038],[3.8,-0.005],[3.95,-0.0042],[4.1,-0.002],[4.3,0.0002],[4.5,0.0022],[4.7,0.0028],[4.85,0.0018],[5,0.0002]],
	[[0,0],[0.02,0.04],[0.04,-0.04],[0.06,0.01],[0.08,-0.015],[0.1,0.025],[0.12,-0.005],[0.14,0.02],[0.16,-0.002],[0.18,0.012],[0.2,0],[0.22,0.008],[0.25,0],[0.3,0.004],[0.35,0.001],[0.4,0],[0.5,-0.003],[0.6,-0.006],[0.7,-0.009],[0.8,-0.0105],[0.9,-0.0105],[1,-0.009],[1.15,-0.005],[1.3,0],[1.45,0.004],[1.6,0.0068],[1.7,0.007],[1.85,0.005],[2,0.001],[2.15,-0.004],[2.3,-0.007],[2.45,-0.0075],[2.6,-0.005],[2.75,-0.001],[2.9,0.002],[3.05,0.004],[3.2,0.004],[3.35,0.002],[3.5,-0.001],[3.65,-0.004],[3.8,-0.005],[3.95,-0.004],[4.1,-0.002],[4.3,0],[4.5,0.002],[4.7,0.0025],[4.85,0.0015],[5,0]],
	[[0,0],[0.02,0.055],[0.04,-0.063],[0.06,0.02],[0.08,-0.02],[0.1,0.045],[0.12,0],[0.14,0.03],[0.16,0.005],[0.18,0.02],[0.2,0.01],[0.22,0.02],[0.24,0.012],[0.26,0.017],[0.28,0.011],[0.3,0.015],[0.35,0.01],[0.4,0.008],[0.5,0.002],[0.6,-0.005],[0.7,-0.012],[0.8,-0.018],[0.9,-0.021],[0.97,-0.0215],[1.05,-0.02],[1.15,-0.014],[1.25,-0.006],[1.35,0.002],[1.45,0.009],[1.55,0.014],[1.65,0.0165],[1.75,0.0165],[1.85,0.013],[1.95,0.007],[2.05,0],[2.15,-0.006],[2.25,-0.011],[2.35,-0.0145],[2.48,-0.015],[2.6,-0.012],[2.7,-0.007],[2.8,-0.002],[2.9,0.003],[3,0.006],[3.12,0.0085],[3.25,0.009],[3.4,0.006],[3.55,0.001],[3.7,-0.004],[3.85,-0.0075],[4,-0.0085],[4.15,-0.0065],[4.3,-0.003],[4.45,0],[4.6,0.003],[4.75,0.004],[4.9,0.003],[5,0.002]]
];

var palopo = [
	[[0,0],[0.05,0.005],[0.1,-0.004],[0.15,0.004],[0.2,-0.002],[0.3,0],[0.5,-0.001],[0.7,0],[1,0.0015],[1.3,0],[1.6,-0.001],[1.9,0],[2.3,0.0015],[2.7,0.0005],[3,-0.0005],[3.4,0],[3.8,0.0012],[4.3,0.0005],[4.8,0],[5.3,0.0008],[5.8,0.0005],[6.5,0],[7.2,0.0005],[8,0],[9,0],[10,0]],
	[[0,0],[0.05,0.004],[0.1,-0.002],[0.2,-0.005],[0.3,-0.01],[0.4,-0.014],[0.5,-0.0175],[0.6,-0.0185],[0.75,-0.0175],[0.9,-0.012],[1.05,-0.003],[1.2,0.006],[1.35,0.0115],[1.5,0.0128],[1.65,0.01],[1.8,0.003],[1.95,-0.005],[2.1,-0.011],[2.3,-0.0135],[2.45,-0.0115],[2.6,-0.006],[2.75,0.001],[2.9,0.007],[3.05,0.0105],[3.2,0.009],[3.35,0.004],[3.5,-0.002],[3.65,-0.007],[3.85,-0.0092],[4,-0.008],[4.15,-0.004],[4.3,0.001],[4.45,0.005],[4.6,0.0072],[4.75,0.0065],[4.9,0.003],[5.1,-0.002],[5.3,-0.0055],[5.45,-0.0058],[5.6,-0.004],[5.8,0],[6,0.004],[6.15,0.0045],[6.35,0.002],[6.55,-0.0015],[6.75,-0.0035],[6.95,-0.0032],[7.15,-0.001],[7.35,0.0015],[7.55,0.0025],[7.75,0.0015],[8,-0.001],[8.25,-0.0022],[8.5,-0.0015],[8.75,0.0003],[9,0.0015],[9.25,0.0012],[9.5,0],[9.75,-0.0012],[10,-0.001]],
	[[0,0],[0.05,0.004],[0.1,-0.002],[0.2,-0.005],[0.3,-0.0098],[0.4,-0.0138],[0.5,-0.0172],[0.6,-0.0183],[0.75,-0.0176],[0.9,-0.0125],[1.05,-0.0038],[1.2,0.0052],[1.35,0.011],[1.52,0.0128],[1.67,0.0102],[1.82,0.0035],[1.97,-0.0045],[2.12,-0.0105],[2.32,-0.0133],[2.47,-0.0116],[2.62,-0.0062],[2.77,0.0008],[2.92,0.0068],[3.07,0.0104],[3.22,0.0092],[3.37,0.0045],[3.52,-0.0015],[3.67,-0.0066],[3.87,-0.0091],[4.02,-0.0081],[4.17,-0.0043],[4.32,0.0008],[4.47,0.0048],[4.62,0.0072],[4.77,0.0067],[4.92,0.0035],[5.12,-0.0016],[5.32,-0.0052],[5.47,-0.0058],[5.62,-0.0042],[5.82,-0.0002],[6.02,0.0038],[6.17,0.0046],[6.37,0.0024],[6.57,-0.0012],[6.77,-0.0034],[6.97,-0.0033],[7.17,-0.0012],[7.37,0.0013],[7.57,0.0025],[7.77,0.0017],[8.02,-0.0008],[8.27,-0.0021],[8.52,-0.0016],[8.77,0.0001],[9.02,0.0014],[9.27,0.0013],[9.52,0.0001],[9.77,-0.0011],[10,-0.0011]],
	[[0,0],[0.05,0.004],[0.1,-0.002],[0.2,-0.005],[0.3,-0.0102],[0.4,-0.0142],[0.5,-0.0176],[0.6,-0.0186],[0.75,-0.0174],[0.9,-0.0118],[1.05,-0.0028],[1.2,0.0062],[1.35,0.0116],[1.5,0.0128],[1.65,0.0098],[1.8,0.0028],[1.95,-0.0052],[2.1,-0.0112],[2.3,-0.0136],[2.45,-0.0114],[2.6,-0.0058],[2.75,0.0012],[2.9,0.0072],[3.05,0.0106],[3.2,0.0088],[3.35,0.0038],[3.5,-0.0022],[3.65,-0.0072],[3.85,-0.0093],[4,-0.0079],[4.15,-0.0038],[4.3,0.0012],[4.45,0.0052],[4.6,0.0072],[4.75,0.0064],[4.9,0.0028],[5.1,-0.0022],[5.3,-0.0056],[5.45,-0.0058],[5.6,-0.0038],[5.8,0.0002],[6,0.0041],[6.15,0.0045],[6.35,0.0019],[6.55,-0.0016],[6.75,-0.0036],[6.95,-0.0031],[7.15,-0.0009],[7.35,0.0016],[7.55,0.0025],[7.75,0.0014],[8,-0.0011],[8.25,-0.0022],[8.5,-0.0014],[8.75,0.0004],[9,0.0015],[9.25,0.0011],[9.5,-0.0001],[9.75,-0.0012],[10,-0.0009]],
	[[0,0],[0.04,0.014],[0.08,-0.011],[0.12,0.008],[0.16,-0.007],[0.2,0.002],[0.25,-0.002],[0.35,-0.001],[0.5,0.001],[0.65,0.0025],[0.8,0.003],[0.95,0.0026],[1.1,0.0012],[1.3,-0.001],[1.5,-0.0022],[1.7,-0.0016],[1.9,0],[2.1,0.0012],[2.3,0.0014],[2.6,0],[2.9,-0.001],[3.2,-0.0008],[3.5,0],[3.8,0.0006],[4.1,0.0003],[4.5,-0.0003],[5,0],[6,0],[7,0],[8,0],[10,0]],
	[[0,0],[0.04,0.015],[0.08,-0.012],[0.12,0.008],[0.16,-0.008],[0.2,0.002],[0.25,-0.003],[0.35,-0.002],[0.5,0],[0.65,0.002],[0.8,0.0028],[0.95,0.0025],[1.1,0.001],[1.3,-0.001],[1.5,-0.002],[1.7,-0.0015],[1.9,0],[2.1,0.001],[2.3,0.0012],[2.6,0],[2.9,-0.001],[3.2,-0.0008],[3.5,0],[3.8,0.0005],[4.1,0.0003],[4.5,-0.0003],[5,0],[6,0],[7,0],[8,0],[10,0]],
	[[0,0],[0.04,0.021],[0.08,-0.018],[0.12,0.015],[0.16,-0.014],[0.2,0],[0.25,-0.007],[0.3,-0.006],[0.4,-0.005],[0.5,-0.002],[0.6,0.002],[0.7,0.0055],[0.85,0.0075],[1,0.0072],[1.15,0.005],[1.3,0.0015],[1.45,-0.0025],[1.6,-0.0055],[1.75,-0.006],[1.9,-0.004],[2.05,-0.0005],[2.2,0.0025],[2.4,0.0045],[2.55,0.004],[2.75,0.001],[2.95,-0.0025],[3.15,-0.004],[3.35,-0.003],[3.55,0],[3.75,0.0025],[3.95,0.003],[4.15,0.0015],[4.35,-0.001],[4.6,-0.0025],[4.85,-0.002],[5.1,0],[5.35,0.0018],[5.6,0.0015],[5.9,-0.0003],[6.2,-0.0015],[6.5,-0.001],[6.8,0.0005],[7.1,0.001],[7.4,0.0002],[7.8,-0.0008],[8.2,-0.0003],[8.6,0.0004],[9,0],[9.5,-0.0004],[10,0]]
];

var borongloe = [
	[[0,0],[0.03,-0.25],[0.05,-0.5],[0.07,-0.4],[0.1,-0.3],[0.13,-0.33],[0.17,-0.29],[0.22,-0.32],[0.27,-0.3],[0.33,-0.31],[0.45,-0.29],[0.6,-0.27],[0.8,-0.255],[1,-0.24],[1.5,-0.23],[2,-0.225],[3,-0.225],[5,-0.225]],
	[[0,0],[0.03,-0.25],[0.05,-0.5],[0.07,-0.35],[0.1,-0.27],[0.13,-0.3],[0.16,-0.26],[0.2,-0.28],[0.25,-0.27],[0.3,-0.28],[0.4,-0.27],[0.6,-0.255],[0.8,-0.245],[1,-0.24],[1.5,-0.23],[2,-0.222],[2.5,-0.222],[3,-0.222],[4,-0.225],[5,-0.225]],
	[[0,0],[0.03,-0.25],[0.05,-0.5],[0.07,-0.34],[0.1,-0.26],[0.13,-0.29],[0.16,-0.255],[0.2,-0.275],[0.25,-0.265],[0.3,-0.272],[0.4,-0.265],[0.6,-0.252],[0.8,-0.243],[1,-0.238],[1.5,-0.228],[2,-0.222],[2.5,-0.222],[3,-0.223],[4,-0.225],[5,-0.225]],
	[[0,0],[0.03,-0.26],[0.05,-0.52],[0.07,-0.36],[0.1,-0.28],[0.13,-0.31],[0.16,-0.265],[0.2,-0.285],[0.25,-0.27],[0.3,-0.278],[0.4,-0.268],[0.6,-0.252],[0.8,-0.244],[1,-0.238],[1.5,-0.228],[2,-0.221],[2.5,-0.221],[3,-0.222],[4,-0.224],[5,-0.225]],
	[[0,0],[0.03,-0.25],[0.05,-0.5],[0.07,-0.32],[0.1,-0.22],[0.13,-0.26],[0.16,-0.23],[0.2,-0.26],[0.24,-0.245],[0.28,-0.255],[0.35,-0.25],[0.45,-0.252],[0.6,-0.25],[0.8,-0.245],[1,-0.24],[1.5,-0.23],[2,-0.226],[3,-0.225],[4,-0.225],[5,-0.225]],
	[[0,0],[0.03,-0.25],[0.05,-0.5],[0.07,-0.32],[0.1,-0.23],[0.13,-0.27],[0.16,-0.24],[0.2,-0.265],[0.24,-0.25],[0.28,-0.258],[0.35,-0.252],[0.45,-0.253],[0.6,-0.25],[0.8,-0.245],[1,-0.24],[1.5,-0.23],[2,-0.226],[3,-0.225],[4,-0.225],[5,-0.225]],
	[[0,0],[0.03,-0.25],[0.05,-0.5],[0.07,-0.3],[0.1,-0.2],[0.13,-0.25],[0.16,-0.21],[0.2,-0.25],[0.24,-0.235],[0.28,-0.25],[0.35,-0.245],[0.45,-0.25],[0.6,-0.25],[0.8,-0.245],[1,-0.24],[1.5,-0.23],[2,-0.225],[2.5,-0.225],[3,-0.225],[3.5,-0.225],[4,-0.225],[5,-0.225]]
];

var panelCurves = [pinrang, parePare, suppa, barru, tello, telloLama, sungguminasa, jeneponto, bulukumba, sinjai, soppeng, makale, palopo, borongloe];

// layout: [left, top, width, height] of each plot area in px
var boxes = [
	[40,23,371,245], [446,23,373,245], [851,23,375,245],
	[40,341,372,246], [441,341,376,246], [847,341,379,246],
	[36,660,377,246], [446,660,374,246], [851,660,374,246],
	[41,979,372,245], [446,979,374,245], [851,979,374,245],
	[247,1282,368,246], [645,1282,377,246]
];
var yNameGap = [22,22,22,22,19,17,19,23,21,22,23,21,26,17];

var lineColors = ['#ff4df5', '#5fe8f0', '#5fe05f', '#5a5aff', '#f2ee3a', '#ff5a4a', '#000000'];
var narrow = "'Liberation Sans Narrow', 'Arial Narrow', 'DejaVu Sans Condensed', sans-serif";

var main = document.getElementById('main');
var myChart = echarts.init(main);

var grid = [], xAxis = [], yAxis = [], series = [], title = [], legend = [];

panelCurves.forEach(function (curves, i) {
	var b = boxes[i];
	var tt = timeTicks[i], at = ampTicks[i];
	grid.push({
		left: b[0], top: b[1], width: b[2], height: b[3],
		show: true, borderColor: '#8a8a8a', borderWidth: 1
	});
	title.push({
		text: panelTitles[i],
		left: b[0] + b[2] / 2,
		top: b[1] - 16,
		textAlign: 'center',
		textStyle: { fontFamily: narrow, fontSize: 9, fontWeight: 'normal', color: '#222' }
	});
	xAxis.push({
		type: 'value', gridIndex: i,
		min: tt[0], max: tt[1], interval: tt[2],
		name: 'Time (s)', nameLocation: 'middle', nameGap: 13, nameMoveOverlap: false,
		nameTextStyle: { fontFamily: narrow, fontSize: i === 12 ? 4 : 10, fontWeight: 'bold', color: '#111' },
		axisLine: { onZero: false, lineStyle: { color: '#444' } },
		axisTick: { inside: true, length: 3, lineStyle: { color: '#444' } },
		axisLabel: { fontFamily: narrow, fontSize: 9, fontWeight: 'bold', color: '#111', margin: 3 },
		splitLine: { show: true, lineStyle: { color: '#cfcfcf', type: 'dotted' } }
	});
	yAxis.push({
		type: 'value', gridIndex: i,
		min: at[0], max: at[1], interval: at[2],
		name: 'Amplitude (pu)', nameLocation: 'middle', nameGap: yNameGap[i], nameMoveOverlap: false,
		nameTextStyle: { fontFamily: 'DejaVu Sans', fontSize: 10, fontWeight: 'bold', color: '#111' },
		axisLine: { onZero: false, lineStyle: { color: '#444' } },
		axisTick: { inside: true, length: 3, lineStyle: { color: '#444' } },
		axisLabel: { fontFamily: narrow, fontSize: 9, fontWeight: 'bold', color: '#111', margin: 3, showMinLabel: i !== 4 },
		splitLine: { show: true, lineStyle: { color: '#cfcfcf', type: 'dotted' } }
	});
	curves.forEach(function (pts, k) {
		var isMoa2 = k === 6;
		series.push({
			name: seriesNames[k],
			type: 'line',
			xAxisIndex: i, yAxisIndex: i,
			data: pts,
			symbol: 'none',
			smooth: 0.25,
			clip: true,
			z: 2 + k,
			color: lineColors[k],
			lineStyle: {
				color: lineColors[k],
				width: isMoa2 ? 1.7 : 1.1,
				type: isMoa2 ? [3, 2] : 'solid',
				opacity: isMoa2 ? 1 : 0.85
			}
		});
	});
	legend.push({
		data: seriesNames,
		orient: 'vertical',
		right: 1230 - (b[0] + b[2]) + 2,
		top: b[1] + 2,
		backgroundColor: '#fff',
		borderColor: '#222',
		borderWidth: 1,
		borderRadius: 0,
		padding: [3, 3, 3, 2],
		itemGap: 4,
		itemWidth: 11,
		itemHeight: 9.5,
		selectedMode: false,
		z: 20,
		// hide the marker dot, keep the line sample
		itemStyle: { opacity: 0 },
		lineStyle: { width: 1.5, opacity: 1 },
		textStyle: { fontFamily: narrow, fontSize: 9, fontWeight: 'bold', color: '#111', padding: [0, 0, 0, -3] }
	});
});

var option = {
	animation: false,
	backgroundColor: '#fff',
	title: title,
	legend: legend,
	grid: grid,
	xAxis: xAxis,
	yAxis: yAxis,
	series: series
};

myChart.setOption(option);
</script>
</body>
</html>
